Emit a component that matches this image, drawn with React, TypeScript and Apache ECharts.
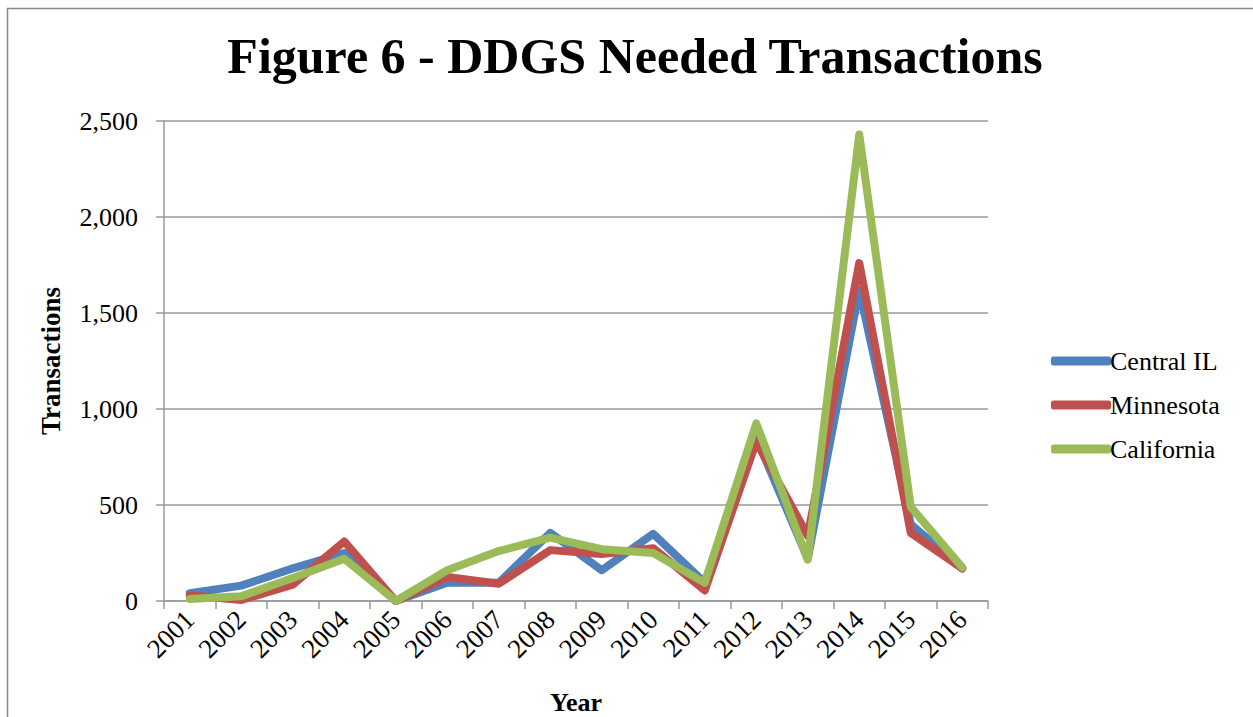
import React, { useEffect, useRef } from "react";
import * as echarts from "echarts";

const years = ["2001","2002","2003","2004","2005","2006","2007","2008","2009","2010","2011","2012","2013","2014","2015","2016"];
const centralIL = [40, 80, 170, 250, 0, 95, 95, 355, 160, 350, 95, 850, 220, 1620, 400, 170];
const minnesota = [30, 5, 85, 310, 0, 125, 90, 265, 245, 275, 55, 830, 340, 1760, 355, 170];
const california = [10, 25, 120, 220, 0, 160, 260, 330, 270, 250, 95, 925, 215, 2430, 490, 175];
const yTicks = { min: 0, max: 2500, interval: 500 };

const FONT = "'Liberation Serif', 'DejaVu Serif', serif";

export default function App() {
  const ref = useRef<HTMLDivElement>(null);
  useEffect(() => {
    document.body.style.margin = "0";
    const chart = echarts.init(ref.current!, null, { renderer: "svg" });
    const mk = (name: string, data: number[], color: string) => ({
      name,
      type: "line",
      data,
      symbol: "none",
      lineStyle: { color, width: 8, cap: "round", join: "round" },
      itemStyle: { color },
    });
    chart.setOption({
      animation: false,
      backgroundColor: "#fff",
      title: {
        text: "Figure 6 - DDGS Needed Transactions",
        left: 630,
        top: 26,
        textAlign: "center",
        textStyle: { fontFamily: FONT, fontWeight: "bold", fontSize: 50, color: "#000" },
      },
      graphic: [
        {
          type: "rect",
          shape: { x: 7.5, y: 8.5, width: 1260, height: 720 },
          style: { fill: "none", stroke: "#888", lineWidth: 1.5 },
          silent: true,
        },
      ],
      legend: {
        orient: "vertical",
        left: 1046,
        top: 343,
        itemWidth: 60,
        itemHeight: 9,
        itemGap: 18,
        icon: "roundRect",
        textStyle: { fontFamily: FONT, fontSize: 26, color: "#000", padding: [0, 0, 0, -6] },
        data: ["Central IL", "Minnesota", "California"],
      },
      grid: { left: 164, right: 265, top: 121, bottom: 116, containLabel: false, outerBoundsMode: "none" },
      xAxis: {
        type: "category",
        data: years,
        boundaryGap: true,
        name: "Year",
        nameLocation: "middle",
        nameGap: 88,
        nameTextStyle: { fontFamily: FONT, fontWeight: "bold", fontSize: 26, color: "#000" },
        axisLine: { lineStyle: { color: "#999", width: 1.5 } },
        axisTick: { show: true, alignWithLabel: false, length: 8, lineStyle: { color: "#999", width: 1.5 } },
        axisLabel: { rotate: 45, fontFamily: FONT, fontSize: 27, color: "#000", margin: 14, interval: 0 },
      },
      yAxis: {
        type: "value",
        min: yTicks.min,
        max: yTicks.max,
        interval: yTicks.interval,
        name: "Transactions",
        nameLocation: "middle",
        nameGap: 100,
        nameRotate: 90,
        nameTextStyle: { fontFamily: FONT, fontWeight: "bold", fontSize: 27, color: "#000" },
        axisLine: { show: true, lineStyle: { color: "#999", width: 1.5 } },
        axisTick: { show: true, length: 8, lineStyle: { color: "#999", width: 1.5 } },
        splitLine: { lineStyle: { color: "#999", width: 1.5 } },
        axisLabel: {
          fontFamily: FONT,
          fontSize: 26,
          color: "#000",
          margin: 26,
          formatter: (v: number) => v.toLocaleString("en-US"),
        },
      },
      series: [
        mk("Central IL", centralIL, "#4F81BD"),
        mk("Minnesota", minnesota, "#C0504D"),
        mk("California", california, "#9BBB59"),
      ],
    });
    return () => chart.dispose();
  }, []);
  return <div ref={ref} style={{ width: 1253, height: 717 }} />;
}
